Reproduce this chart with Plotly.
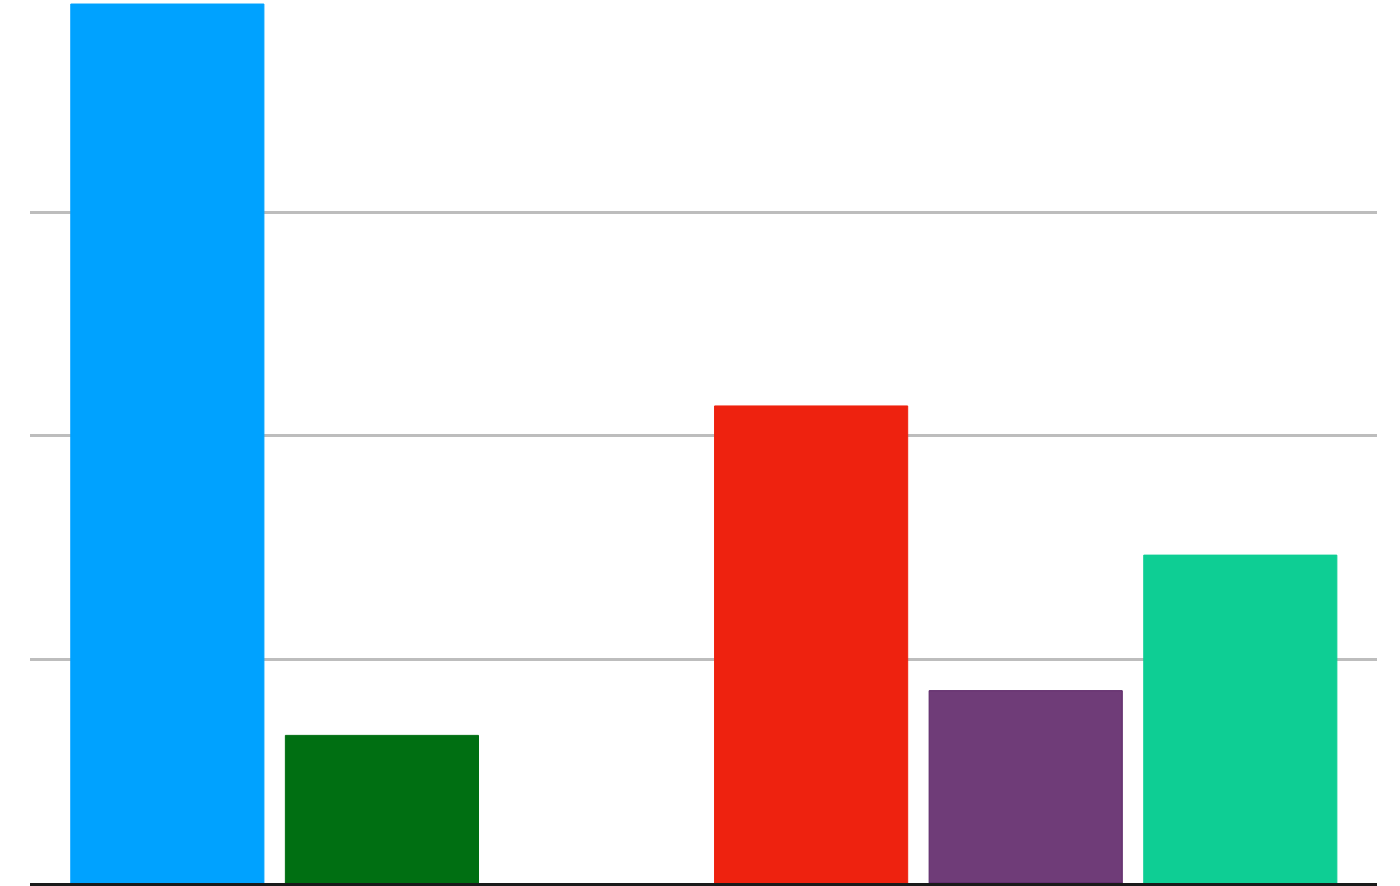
import plotly.graph_objects as go

categories = ["A", "B", "C", "D", "E", "F"]
values = [3.93, 0.66, None, 2.133, 0.86, 1.466]
colors = ["#00A2FF", "#006F12", "#FFFFFF", "#EE220F", "#6F3C78", "#0ECE94"]
outline_colors = ["#00A2FF", "#006F12", "#FFFFFF", "#EE220F", "#5A2466", "#0ECE94"]
grid_ticks = [1, 2, 3]

fig = go.Figure(
    go.Bar(
        x=categories,
        y=values,
        width=0.9,
        marker=dict(color=colors, line=dict(color=outline_colors, width=1)),
        hoverinfo="skip",
    )
)

fig.update_layout(
    width=1400,
    height=886,
    margin=dict(l=30, r=23, t=0, b=3, pad=0),
    paper_bgcolor="white",
    plot_bgcolor="white",
    showlegend=False,
    xaxis=dict(
        type="category",
        range=[-0.64, 5.637],
        showticklabels=False,
        showgrid=False,
        showline=True,
        linecolor="#1a1a1a",
        linewidth=3,
        ticks="",
        zeroline=False,
    ),
    yaxis=dict(
        range=[0, 3.948],
        tickvals=grid_ticks,
        showticklabels=False,
        showgrid=True,
        gridcolor="#BDBDBD",
        gridwidth=3,
        zeroline=False,
        showline=False,
        ticks="",
    ),
)

fig.write_html(
    "out.html",
    config={"displayModeBar": False},
    post_script="document.body.style.margin='0';document.body.style.overflow='hidden';",
)
